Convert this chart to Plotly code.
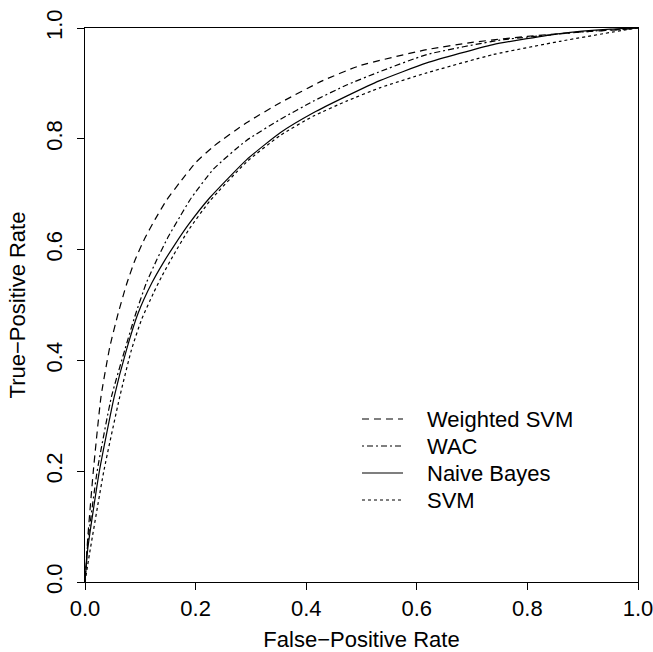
import plotly.graph_objects as go

# ROC curves
wsvm_fpr = [0, 0.005, 0.015, 0.029, 0.045, 0.060, 0.075, 0.090, 0.108, 0.127, 0.148, 0.172,
            0.200, 0.232, 0.292, 0.353, 0.430, 0.497, 0.618, 0.700, 0.800, 0.900, 0.967, 1.0]
wsvm_tpr = [0, 0.080, 0.200, 0.335, 0.425, 0.485, 0.537, 0.580, 0.620, 0.655, 0.690, 0.722,
            0.757, 0.786, 0.829, 0.865, 0.905, 0.932, 0.961, 0.974, 0.985, 0.993, 0.997, 1.0]

wac_fpr = [0, 0.005, 0.022, 0.048, 0.072, 0.090, 0.111, 0.130, 0.151, 0.172, 0.190, 0.232,
           0.292, 0.353, 0.413, 0.473, 0.530, 0.618, 0.750, 0.900, 1.0]
wac_tpr = [0, 0.070, 0.200, 0.335, 0.419, 0.479, 0.540, 0.582, 0.624, 0.660, 0.690, 0.745,
           0.797, 0.835, 0.868, 0.897, 0.920, 0.952, 0.978, 0.993, 1.0]

nb_fpr = [0, 0.005, 0.026, 0.053, 0.075, 0.096, 0.121, 0.142, 0.163, 0.187, 0.226, 0.292,
          0.353, 0.413, 0.473, 0.533, 0.618, 0.738, 0.859, 0.950, 1.0]
nb_tpr = [0, 0.060, 0.200, 0.335, 0.419, 0.485, 0.540, 0.577, 0.610, 0.645, 0.694, 0.762,
          0.811, 0.847, 0.877, 0.905, 0.937, 0.970, 0.990, 0.998, 1.0]

svm_fpr = [0, 0.008, 0.034, 0.063, 0.084, 0.102, 0.124, 0.139, 0.160, 0.187, 0.226, 0.292,
           0.353, 0.413, 0.473, 0.533, 0.618, 0.738, 0.859, 0.980, 1.0]
svm_tpr = [0, 0.050, 0.200, 0.335, 0.419, 0.473, 0.522, 0.552, 0.590, 0.635, 0.688, 0.758,
           0.806, 0.841, 0.868, 0.892, 0.919, 0.952, 0.976, 0.997, 1.0]

series_names = ["Weighted SVM", "WAC", "Naive Bayes", "SVM"]

tick_vals = [0, 0.2, 0.4, 0.6, 0.8, 1.0]
tick_text = ["0.0", "0.2", "0.4", "0.6", "0.8", "1.0"]

FONT = "Liberation Sans, Arial, Helvetica, sans-serif"
FS = 22
LW = 1.2

# figure geometry (page body margin removed below, so the figure fills the window)
W, H = 653, 652
ML, MR, MT, MB = 85, 15, 28, 70
PW, PH = W - ML - MR, H - MT - MB

fig = go.Figure()
dashes = ["7px,5px", "2px,3px,6px,3px", "solid", "3px,3px"]
data = [(wsvm_fpr, wsvm_tpr), (wac_fpr, wac_tpr), (nb_fpr, nb_tpr), (svm_fpr, svm_tpr)]
for name, (x, y), dash in zip(series_names, data, dashes):
    fig.add_trace(go.Scatter(x=x, y=y, mode="lines", name=name, showlegend=False,
                             line=dict(color="black", width=LW, dash=dash,
                                       shape="spline", smoothing=0.5)))

# legend drawn in the plot's paper space (sample line + label)
leg_x0, leg_x1, leg_tx = 277, 318, 340      # px from plot left edge
leg_y0, leg_dy = 391, 27                    # px from plot top edge
for i, (name, dash) in enumerate(zip(series_names, dashes)):
    yy = 1 - (leg_y0 + i * leg_dy) / PH
    fig.add_shape(type="line", xref="paper", yref="paper",
                  x0=leg_x0 / PW, x1=leg_x1 / PW, y0=yy, y1=yy,
                  line=dict(color="black", width=LW, dash=dash))
    fig.add_annotation(xref="paper", yref="paper", x=leg_tx / PW, y=yy,
                       xanchor="left", yanchor="middle", showarrow=False, text=name,
                       font=dict(family=FONT, size=FS, color="black"))

axis_common = dict(range=[0, 1], tickvals=tick_vals, ticktext=tick_text, automargin=False,
                   showgrid=False, zeroline=False, showline=True, mirror=True,
                   linecolor="black", linewidth=1, ticks="outside", ticklen=7,
                   tickcolor="black", tickwidth=1, ticklabeloverflow="allow",
                   tickfont=dict(family=FONT, size=FS, color="black"))

fig.update_layout(
    width=W, height=H,
    margin=dict(l=ML, r=MR, t=MT, b=MB),
    paper_bgcolor="white", plot_bgcolor="white",
    xaxis=dict(**axis_common,
               title=dict(text="False\u2212Positive Rate", font=dict(family=FONT, size=FS, color="black"),
                          standoff=14)),
    yaxis=dict(**axis_common, tickangle=-90, ticklabelstandoff=6,
               title=dict(text="True\u2212Positive Rate", font=dict(family=FONT, size=FS, color="black"),
                          standoff=10)),
    showlegend=False,
)

fig.write_html("out.html",
               config={"displayModeBar": False},
               post_script="document.body.style.margin='0';"
                           "document.documentElement.style.overflow='hidden';")
